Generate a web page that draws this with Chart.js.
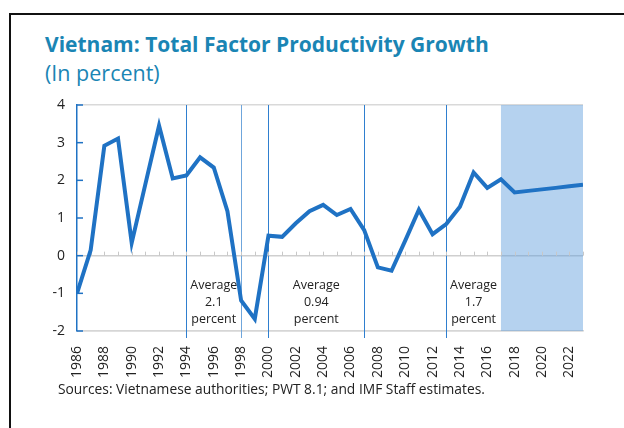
<!DOCTYPE html>
<html>
<head>
<meta charset="utf-8">
<script src="https://cdn.jsdelivr.net/npm/chart.js@4.4.1/dist/chart.umd.min.js"></script>
<style>
  html, body { margin: 0; padding: 0; background: #fff; }
  #wrap { position: relative; width: 624px; height: 428px; overflow: hidden; font-family: "Open Sans", sans-serif; }
  #frame { position: absolute; left: 9px; top: 13px; width: 700px; height: 500px; border-left: 2px solid #111; border-top: 2px solid #111; }
  #title { position: absolute; left: 45px; top: 30px; font-size: 21px; font-weight: bold; color: #1a85b4; white-space: nowrap; line-height: 28px; }
  #subtitle { position: absolute; left: 45px; top: 59px; font-size: 21.5px; color: #1a85b4; white-space: nowrap; line-height: 28px; }
  #source { position: absolute; left: 58px; top: 379px; font-size: 13.8px; color: #222; white-space: nowrap; line-height: 20px; }
  #chartTfp { position: absolute; left: 0; top: 0; }
</style>
</head>
<body>
<div id="wrap">
  <div id="frame"></div>
  <div id="title">Vietnam: Total Factor Productivity Growth</div>
  <div id="subtitle">(In percent)</div>
  <canvas id="chartTfp" width="624" height="428"></canvas>
  <div id="source">Sources: Vietnamese authorities; PWT 8.1; and IMF Staff estimates.</div>
</div>
<script>
const years = [
  1986, 1987, 1988, 1989, 1990, 1991, 1992, 1993, 1994, 1995,
  1996, 1997, 1998, 1999, 2000, 2001, 2002, 2003, 2004, 2005,
  2006, 2007, 2008, 2009, 2010, 2011, 2012, 2013, 2014, 2015,
  2016, 2017, 2018, 2019, 2020, 2021, 2022, 2023,
];
const tfpGrowth = [
  -1.0, 0.15, 2.92, 3.11, 0.34, 1.9, 3.45, 2.05, 2.13, 2.61,
  2.34, 1.18, -1.19, -1.68, 0.53, 0.5, 0.86, 1.18, 1.35, 1.08,
  1.24, 0.68, -0.31, -0.4, 0.4, 1.22, 0.57, 0.84, 1.3, 2.21,
  1.8, 2.03, 1.68, 1.72, 1.76, 1.8, 1.84, 1.88,
];
const xTickYears = [
  1986, 1988, 1990, 1992, 1994, 1996, 1998, 2000, 2002, 2004,
  2006, 2008, 2010, 2012, 2014, 2016, 2018, 2020, 2022,
];
const yTickValues = [-2, -1, 0, 1, 2, 3, 4];
const periodBreaks = [1994, 1998, 2000, 2007, 2013];
const averageSpans = [[1994, 1998], [2000, 2007], [2013, 2017]];
const averageTexts = [
  ['Average', '2.1', 'percent'],
  ['Average', '0.94', 'percent'],
  ['Average', '1.7', 'percent'],
];
const projectionSpan = [2017, 2023];

const BLUE = '#1f72c4';

const decorations = {
  id: 'decorations',
  beforeDatasetsDraw(chart) {
    const { ctx, chartArea, scales } = chart;
    const x = scales.x;
    const y = scales.y;
    ctx.save();

    // projection shading
    const sx0 = x.getPixelForValue(projectionSpan[0]);
    const sx1 = x.getPixelForValue(projectionSpan[1]);
    ctx.fillStyle = 'rgba(90, 155, 220, 0.45)';
    ctx.fillRect(sx0, chartArea.top, sx1 - sx0, chartArea.bottom - chartArea.top);

    // period separators
    ctx.lineWidth = 1;
    periodBreaks.forEach((yr) => {
      const px = Math.round(x.getPixelForValue(yr)) + 0.5;
      ctx.strokeStyle = yr === 1998 ? '#6fa6dc' : '#2f7fcf';
      ctx.beginPath();
      ctx.moveTo(px, chartArea.top);
      ctx.lineTo(px, chartArea.bottom + 7);
      ctx.stroke();
    });

    // small year ticks on the zero line
    const y0 = y.getPixelForValue(0);
    ctx.strokeStyle = '#c8c8c8';
    ctx.lineWidth = 1;
    years.forEach((yr) => {
      const px = Math.round(x.getPixelForValue(yr)) + 0.5;
      ctx.beginPath();
      ctx.moveTo(px, y0);
      ctx.lineTo(px, y0 - 4);
      ctx.stroke();
    });

    // inward ticks on the value axis
    ctx.strokeStyle = BLUE;
    ctx.lineWidth = 1.5;
    y.ticks.forEach((t) => {
      const py = y.getPixelForValue(t.value);
      ctx.beginPath();
      ctx.moveTo(chartArea.left, py);
      ctx.lineTo(chartArea.left + 6, py);
      ctx.stroke();
    });

    // average labels
    ctx.fillStyle = '#222';
    ctx.font = '12.5px "Open Sans"';
    ctx.textAlign = 'center';
    ctx.textBaseline = 'middle';
    averageSpans.forEach((span, i) => {
      const cx = (x.getPixelForValue(span[0]) + x.getPixelForValue(span[1])) / 2;
      averageTexts[i].forEach((line, j) => {
        ctx.fillText(line, cx, 285 + j * 17);
      });
    });
    ctx.restore();
  },
};

new Chart(document.getElementById('chartTfp').getContext('2d'), {
  type: 'line',
  data: {
    datasets: [
      {
        label: 'TFP growth',
        data: years.map((yr, i) => ({ x: yr, y: tfpGrowth[i] })),
        borderColor: BLUE,
        borderWidth: 4,
        pointRadius: 0,
        tension: 0,
        fill: false,
      },
    ],
  },
  options: {
    responsive: false,
    animation: false,
    layout: { padding: { top: 105, right: 41, bottom: 0, left: 0 } },
    scales: {
      x: {
        type: 'linear',
        min: 1986,
        max: 2023,
        afterBuildTicks: (scale) => {
          scale.ticks = xTickYears.map((value) => ({ value }));
        },
        afterFit: (scale) => { scale.height = 97; },
        grid: { display: false },
        border: { color: '#d6d6d6', width: 1.5 },
        ticks: {
          autoSkip: false,
          minRotation: 90,
          maxRotation: 90,
          padding: 7,
          color: '#222',
          font: { family: 'Open Sans', size: 14 },
          callback: (value) => String(value),
        },
      },
      y: {
        min: -2,
        max: 4,
        afterBuildTicks: (scale) => {
          scale.ticks = yTickValues.map((value) => ({ value }));
        },
        afterFit: (scale) => { scale.width = 77; },
        grid: {
          drawTicks: false,
          lineWidth: 1.5,
          color: (c) => {
            const v = c.tick ? c.tick.value : null;
            if (v === 4 || v === -2) return '#d9d9d9';
            if (v === 0) return '#cfcfcf';
            return 'rgba(0,0,0,0)';
          },
        },
        border: { color: BLUE, width: 1.5 },
        ticks: {
          padding: 12,
          color: '#222',
          font: { family: 'Open Sans', size: 14 },
        },
      },
    },
    plugins: {
      legend: { display: false },
      tooltip: { enabled: false },
    },
  },
  plugins: [decorations],
});
</script>
</body>
</html>
